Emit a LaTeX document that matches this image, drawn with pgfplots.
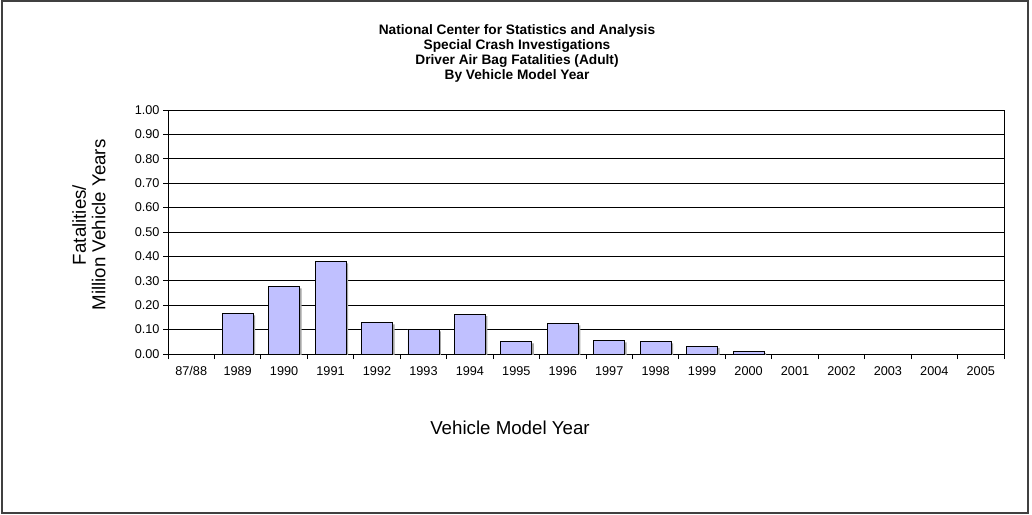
\documentclass[border=0pt]{standalone}
\usepackage{pgfplots}
\pgfplotsset{compat=1.18}
\usepackage{fontspec}
\setmainfont{Liberation Sans}
\definecolor{barfill}{RGB}{192,192,255}
\definecolor{framegray}{RGB}{64,64,64}
\begin{document}
\begin{tikzpicture}[x=1pt,y=1pt]
\useasboundingbox (0,0) rectangle (1032,514);
\draw[framegray, line width=2pt] (1.5,1.5) rectangle (1027.5,512.5);
\begin{axis}[
  at={(168pt,160pt)}, anchor=south west,
  scale only axis, width=836pt, height=244pt,
  xmin=-0.5, xmax=17.5, ymin=0, ymax=1,
  xtick={0,1,2,3,4,5,6,7,8,9,10,11,12,13,14,15,16,17},
  xticklabels={87/88,1989,1990,1991,1992,1993,1994,1995,1996,1997,1998,1999,2000,2001,2002,2003,2004,2005},
  minor xtick={-0.5,0.5,1.5,2.5,3.5,4.5,5.5,6.5,7.5,8.5,9.5,10.5,11.5,12.5,13.5,14.5,15.5,16.5,17.5},
  ytick={0,0.1,0.2,0.3,0.4,0.5,0.6,0.7,0.8,0.9,1.0},
  xtick pos=bottom, ytick pos=left,
  tick align=outside,
  major tick length=5pt, minor tick length=5pt,
  xtick style={draw=none},
  minor x tick style={draw=black, line width=0.8pt},
  ytick style={draw=black, line width=0.8pt},
  ymajorgrids, grid style={black, line width=0.8pt},
  axis line style={black, line width=0.9pt},
  tick label style={font=\fontsize{12.7}{14}\selectfont},
  xticklabel style={text height=9.2pt, text depth=2pt, yshift=-4pt},
  yticklabel style={/pgf/number format/.cd, fixed, fixed zerofill, precision=2, assume math mode=true},
  /pgf/number format/assume math mode=true,
]
% shadow
\addplot[ybar, bar width=31pt, bar shift=0pt, fill=gray!70, draw=none, xshift=2pt, yshift=-2pt, forget plot] coordinates {
 (1,0.167) (2,0.277) (3,0.380) (4,0.130) (5,0.101) (6,0.163) (7,0.052) (8,0.126) (9,0.056) (10,0.052) (11,0.032) (12,0.012)
};
% bars (values for 87/88 and 2001-2005 are 0)
\addplot[ybar, bar width=31pt, bar shift=0pt, fill=barfill, draw=black, line width=0.8pt] coordinates {
 (1,0.167) (2,0.277) (3,0.380) (4,0.130) (5,0.101) (6,0.163) (7,0.052) (8,0.126) (9,0.056) (10,0.052) (11,0.032) (12,0.012)
};
\end{axis}
\node[align=center, font=\bfseries\fontsize{13.7}{15}\selectfont] at (517,460.5) {National Center for Statistics and Analysis\\Special Crash Investigations\\Driver Air Bag Fatalities (Adult)\\By Vehicle Model Year};
\node[rotate=90, align=center, font=\fontsize{18.7}{19.5}\selectfont] at (89,289) {Fatalities/\\Million Vehicle Years};
\node[font=\fontsize{18.7}{22}\selectfont] at (510,86) {Vehicle Model Year};
\end{tikzpicture}
\end{document}
